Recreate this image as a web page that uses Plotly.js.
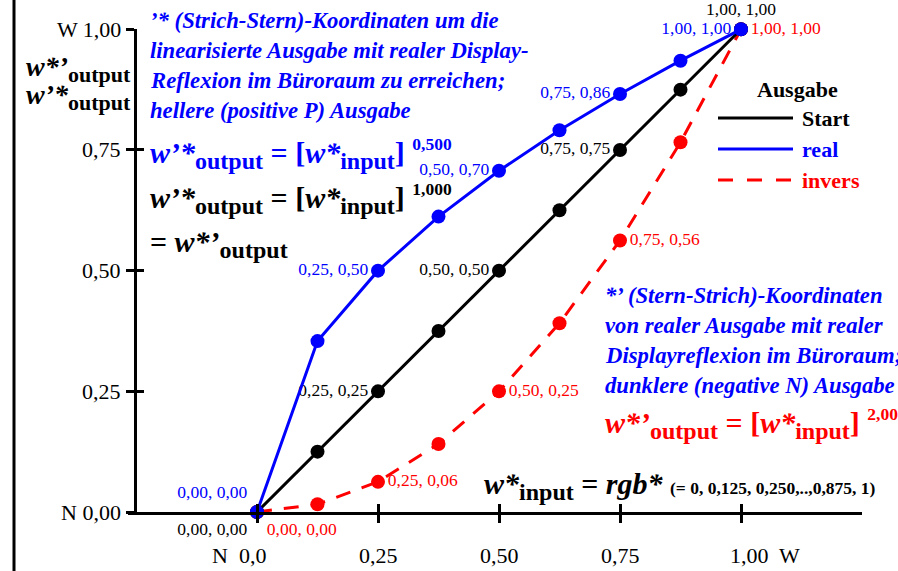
<!DOCTYPE html>
<html><head><meta charset="utf-8">
<script src="https://cdn.plot.ly/plotly-3.0.1.min.js"></script>
<style>html,body{margin:0;padding:0;background:#fff}</style>
</head><body><div id="chart" style="width:898px;height:571px"></div>
<script>
// ---- data ----
const inputValues   = [0, 0.125, 0.25, 0.375, 0.5, 0.625, 0.75, 0.875, 1];
const startValues   = [0, 0.125, 0.25, 0.375, 0.5, 0.625, 0.75, 0.875, 1];
const realValues    = [0, 0.354, 0.5, 0.612, 0.707, 0.791, 0.866, 0.935, 1];
const inversValues  = [0, 0.016, 0.0625, 0.141, 0.25, 0.391, 0.5625, 0.766, 1];
const xTickVals = [0, 0.25, 0.5, 0.75, 1];
const xTickText = ['N  0,0', '0,25', '0,50', '0,75', '1,00  W'];
const yTickVals = [0, 0.25, 0.5, 0.75, 1];
const yTickText = ['N 0,00', '0,25', '0,50', '0,75', 'W 1,00'];
const seriesNames = ['Start', 'real', 'invers'];
const legendTitle = 'Ausgabe';

// ---- helpers ----
const W = 898, H = 571;
const fx = p => p / W;
const fy = p => 1 - p / H;
const FONT = '"Liberation Serif", "Times New Roman", serif';
const BLUE = '#0000ff', RED = '#ff0000', BLACK = '#000000';
const fmt = v => (Math.floor(v * 100 + 1e-9) / 100).toFixed(2).replace('.', ',');
const labels = ys => ys.map((y, i) => (i % 2 === 0) ? fmt(inputValues[i]) + ', ' + fmt(y) : '');

const posStart  = ['bottom left', 'middle left', 'middle left', 'middle left', 'middle left', 'middle left', 'middle left', 'middle left', 'top center'];
const posReal   = ['top left', 'middle left', 'middle left', 'middle left', 'middle left', 'middle left', 'middle left', 'middle left', 'middle left'];
const posInvers = ['bottom right', 'middle right', 'middle right', 'middle right', 'middle right', 'middle right', 'middle right', 'middle right', 'middle right'];

function series(name, ys, color, dash, pos) {
  return {
    type: 'scatter', mode: 'lines+markers+text', name: name,
    x: inputValues, y: ys,
    line: {color: color, width: 3, dash: dash},
    marker: {color: color, size: 14},
    text: labels(ys), textposition: pos,
    textfont: {family: FONT, size: 17.5, color: color},
    cliponaxis: false, hoverinfo: 'skip', showlegend: false
  };
}

const traces = [
  series(seriesNames[2], inversValues, RED, '15px,12px', posInvers),
  series(seriesNames[0], startValues, BLACK, 'solid', posStart),
  series(seriesNames[1], realValues, BLUE, 'solid', posReal),
  {type: 'scatter', mode: 'markers', x: [0], y: [0], xaxis: 'x2', yaxis: 'y2',
   marker: {opacity: 0, size: 1}, hoverinfo: 'skip', showlegend: false}
];

const ann = [];
function A(text, x, y, o) {
  ann.push(Object.assign({text: text, xref: 'paper', yref: 'paper', x: fx(x), y: fy(y),
    xanchor: 'left', yanchor: 'middle', showarrow: false,
    font: {family: FONT, size: 22, color: BLACK}}, o || {}));
}

// tick labels (y)
yTickVals.forEach((v, i) => ann.push({text: yTickText[i], xref: 'paper', yref: 'y', x: fx(123), y: v,
  xanchor: 'right', yanchor: 'middle', showarrow: false, font: {family: FONT, size: 22, color: BLACK}}));
// tick labels (x)
xTickVals.forEach((v, i) => {
  const first = i === 0, last = i === xTickVals.length - 1;
  ann.push({text: xTickText[i], xref: 'x', yref: 'paper', x: v, y: fy(555),
    xanchor: first ? 'right' : (last ? 'left' : 'center'), xshift: first ? 11 : (last ? -13 : 0),
    yanchor: 'middle', showarrow: false, font: {family: FONT, size: 22, color: BLACK}});
});

// y-axis title
const sub = (t, s) => '<sub><span style="font-size:' + s + 'px">' + t + '</span></sub>';
const sup = (t, s) => '<sup><span style="font-size:' + s + 'px">' + t + '</span></sup>';
A('<b><i>w*\u2019</i>' + sub('output', 22) + '</b>', 133, 69, {xanchor: 'right', font: {family: FONT, size: 28, color: BLACK}});
A('<b><i>w\u2019*</i>' + sub('output', 22) + '</b>', 133, 97, {xanchor: 'right', font: {family: FONT, size: 28, color: BLACK}});

// left blue block
const BT = 22.7;
const leftBlock = ['\u2019* (Strich-Stern)-Koordinaten um die', 'linearisierte Ausgabe mit realer Display-',
  'Reflexion im B\u00fcroraum zu erreichen;', 'hellere (positive P) Ausgabe'];
leftBlock.forEach((t, i) => A('<b><i>' + t + '</i></b>', 148, 20 + i * 30.3, {font: {family: FONT, size: BT, color: BLUE}}));

// formulas
const F = 30, S = 24, P = 17.5;
A('<b><i>w\u2019*</i>' + sub('output', S) + ' = [<i>w*</i>' + sub('input', S) + '] ' + sup('0,500', P) + '</b>', 148, 154, {font: {family: FONT, size: F, color: BLUE}});
A('<b><i>w\u2019*</i>' + sub('output', S) + ' = [<i>w*</i>' + sub('input', S) + '] ' + sup('1,000', P) + '</b>', 148, 199, {font: {family: FONT, size: F, color: BLACK}});
A('<b>= <i>w*\u2019</i>' + sub('output', S) + '</b>', 148, 244, {font: {family: FONT, size: F, color: BLACK}});

// right blue block
const rightBlock = ['*\u2019 (Stern-Strich)-Koordinaten', 'von realer Ausgabe mit realer',
  'Displayreflexion im B\u00fcroraum;', 'dunklere (negative N) Ausgabe'];
rightBlock.forEach((t, i) => A('<b><i>' + t + '</i></b>', 603, 295 + i * 30.3, {font: {family: FONT, size: BT, color: BLUE}}));
A('<b><i>w*\u2019</i>' + sub('output', S) + ' = [<i>w*</i>' + sub('input', S) + '] ' + sup('2,000', P) + '</b>', 603, 424, {font: {family: FONT, size: F, color: RED}});

// bottom formula
A('<b><i>w*</i>' + sub('input', S) + ' = <i>rgb*</i> <span style="font-size:17.5px">(= 0, 0,125, 0,250,..,0,875, 1)</span></b>', 482, 486, {font: {family: FONT, size: F, color: BLACK}});

// legend
A('<b>' + legendTitle + '</b>', 797, 89, {xanchor: 'center'});
const legColors = [BLACK, BLUE, RED];
const legDash = ['solid', 'solid', '15px,14px'];
const shapes = [
  {type: 'line', xref: 'paper', yref: 'paper', x0: fx(14), x1: fx(14), y0: 0, y1: 1, line: {color: BLACK, width: 3}}
];
seriesNames.forEach((n, i) => {
  const yy = 118 + i * 31;
  shapes.push({type: 'line', xref: 'paper', yref: 'paper', x0: fx(718), x1: fx(793), y0: fy(yy), y1: fy(yy),
    line: {color: legColors[i], width: 3, dash: legDash[i]}});
  A('<b>' + n + '</b>', 800, yy, {font: {family: FONT, size: 22, color: legColors[i]}});
});

const xr = [(128 - 257) / 484, (862 - 257) / 484];
const axCommon = {showgrid: false, zeroline: false, fixedrange: true, showticklabels: false,
  tickwidth: 3, tickcolor: BLACK, linecolor: BLACK};
const layout = {
  width: W, height: H, margin: {l: 0, r: 0, t: 0, b: 0},
  paper_bgcolor: '#ffffff', plot_bgcolor: 'rgba(0,0,0,0)', showlegend: false,
  font: {family: FONT, color: BLACK},
  xaxis: Object.assign({}, axCommon, {domain: [fx(128), fx(862)], range: xr, anchor: 'y',
    showline: true, linewidth: 3, ticks: 'outside', ticklen: 8, tickvals: xTickVals}),
  yaxis: Object.assign({}, axCommon, {domain: [fy(512), fy(29.3)], range: [0, 1], anchor: 'free', position: fx(135),
    showline: true, linewidth: 3, ticks: 'outside', ticklen: 8, tickvals: yTickVals}),
  xaxis2: Object.assign({}, axCommon, {overlaying: 'x', range: xr, anchor: 'y', showline: false,
    ticks: 'inside', ticklen: 8, tickvals: xTickVals}),
  yaxis2: Object.assign({}, axCommon, {overlaying: 'y', range: [0, 1], anchor: 'free', position: fx(135), showline: false,
    ticks: 'inside', ticklen: 8, tickvals: yTickVals}),
  annotations: ann, shapes: shapes
};
Plotly.newPlot('chart', traces, layout, {staticPlot: true, displayModeBar: false});
</script></body></html>
